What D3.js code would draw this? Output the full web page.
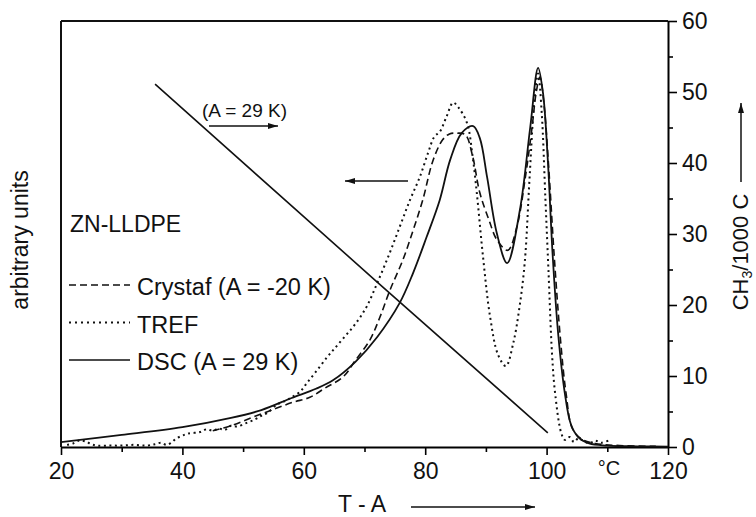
<!DOCTYPE html>
<html><head><meta charset="utf-8">
<script src="https://cdn.jsdelivr.net/npm/d3@7"></script>
<style>
body{margin:0;background:#fff;}
svg text{font-family:"Liberation Sans",Arial,Helvetica,sans-serif;fill:#111;}
</style></head>
<body><svg id="c" width="756" height="517"></svg>
<script>
// ---- data ----
const xMajorTicks = [20, 40, 60, 80, 100, 120];
const xMinorTicks = [30, 50, 70, 90, 110];
const yMajorTicks = [0, 10, 20, 30, 40, 50, 60];
const yMinorTicks = [5, 15, 25, 35, 45, 55];

const dscT = [20, 30, 40, 48, 53, 58, 62, 64.8, 68.5, 72.1, 75.8, 78, 80.2, 82.4, 84.1, 86, 87.9, 89, 90.2, 91.8, 93.5, 95.6, 97.3, 98.6, 99.4, 100.2, 101.0, 101.9, 103, 104, 105.2, 107, 110, 115, 120];
const dscV = [0.7, 1.7, 2.8, 4.1, 5.2, 6.9, 8.2, 9.4, 12.0, 15.5, 20.3, 24.5, 29.5, 34.8, 40.4, 44.2, 45.2, 43.5, 38, 30.1, 25.9, 33.4, 45, 53.4, 49.9, 40.4, 27, 16, 7.6, 3.2, 1.4, 0.5, 0.2, 0.1, 0.05];

const crystafT = [45, 48, 51.6, 55, 58.2, 61, 63.5, 66.5, 68.5, 70.9, 72.5, 74.2, 76.3, 78, 79.6, 81.3, 82.9, 84, 85.2, 86.6, 87.8, 89, 90.5, 91.8, 93.6, 95.1, 96.5, 97.6, 98.3, 98.9, 99.6, 100.3, 101.3, 102.3, 103.2, 104.3, 106, 108, 112, 118];
const crystafV = [2.3, 3.0, 4.2, 5.3, 6.3, 7.0, 8.3, 9.9, 12.2, 15.1, 18.2, 22.1, 26.3, 30.5, 34.8, 40.4, 43.3, 44.1, 44.2, 44.0, 41, 35.8, 32, 29.2, 27.7, 31, 38, 45, 50, 52.1, 48, 40, 26.3, 15, 7.6, 2.5, 1.0, 0.5, 0.2, 0.1];

const trefT = [21, 22, 23, 24, 25, 26, 28, 30, 32, 34, 35.5, 36.5, 37.4, 38.3, 39, 40, 41, 42.9, 44, 45, 46, 47, 48, 49, 50.6, 52, 53, 54, 55.6, 57, 58, 59.4, 60.5, 62, 63.8, 65, 66.5, 68, 69.3, 70.5, 72.1, 74, 75.8, 77.5, 79.1, 80.5, 81.5, 82.4, 83.5, 84.6, 85.5, 86.9, 87.8, 88.5, 89.5, 90.7, 92, 93.3, 94.5, 95.5, 96.4, 97.2, 98, 98.6, 99.2, 99.8, 100.3, 100.9, 101.4, 102.4, 103, 103.8, 104.5, 105.2, 106, 107, 108, 109, 110.4];
const trefV = [0.3, 0.5, 0.9, 0.8, 0.4, 0.2, 0.2, 0.2, 0.3, 0.2, 0.4, 0.6, 0.3, 0.7, 1.2, 1.6, 1.9, 2.1, 2.5, 2.3, 2.6, 2.4, 3.0, 2.9, 3.4, 3.9, 4.4, 4.8, 6.0, 6.5, 7.0, 7.8, 9.0, 10.6, 12.6, 13.8, 15.3, 16.8, 18.3, 20.0, 23.1, 27, 31, 34.8, 38, 41.5, 43.7, 44.4, 46.5, 48.5, 47.8, 45.6, 41, 35.8, 27, 18.3, 13, 11.4, 14.6, 19.5, 26, 38, 49, 52.6, 47, 35, 25, 13, 7.6, 2.0, 1.0, 1.4, 0.7, 1.2, 0.9, 0.5, 0.9, 0.6, 1.0];

const compT = [35.5, 72, 100.2];
const compV = [51.1, 23.3, 2.0];

const legendItems = ["Crystaf (A = -20 K)", "TREF", "DSC (A = 29 K)"];
const legendDash = ["7,4", "2,4", null];

// ---- layout ----
const svg = d3.select("#c");
const L = 61, R = 668, T = 21, B = 447;
const x = d3.scaleLinear().domain([20, 120]).range([L, R]);
const y = d3.scaleLinear().domain([0, 60]).range([B, T]);
const FS = 23;

const defs = svg.append("defs");
defs.append("marker").attr("id", "ah").attr("viewBox", "0 0 10 6")
  .attr("refX", 10).attr("refY", 3).attr("markerWidth", 10).attr("markerHeight", 6)
  .attr("markerUnits", "userSpaceOnUse").attr("orient", "auto")
  .append("path").attr("d", "M0,0L10,3L0,6Z").attr("fill", "#111");

svg.append("line").attr("x1", L).attr("x2", L).attr("y1", T).attr("y2", B).attr("stroke", "#111").attr("stroke-width", 2);
svg.append("line").attr("x1", L).attr("x2", R).attr("y1", T).attr("y2", T).attr("stroke", "#111").attr("stroke-width", 2);

const gx = svg.append("g").attr("transform", `translate(0,${B})`)
  .call(d3.axisBottom(x).tickValues(xMajorTicks).tickSize(8).tickSizeOuter(0).tickPadding(8).tickFormat(d3.format("d")));
gx.select(".domain").attr("stroke-width", 2);
gx.selectAll(".tick line").attr("stroke-width", 1.6);
gx.selectAll(".tick text").attr("font-size", FS).attr("font-family", null);
const gx2 = svg.append("g").attr("transform", `translate(0,${B})`)
  .call(d3.axisBottom(x).tickValues(xMinorTicks).tickSize(5).tickSizeOuter(0).tickFormat(""));
gx2.select(".domain").remove();
gx2.selectAll(".tick line").attr("stroke-width", 1.6);

const gy = svg.append("g").attr("transform", `translate(${R},0)`)
  .call(d3.axisRight(y).tickValues(yMajorTicks).tickSize(9).tickSizeOuter(0).tickPadding(5).tickFormat(d3.format("d")));
gy.select(".domain").attr("stroke-width", 2);
gy.selectAll(".tick line").attr("stroke-width", 1.6);
gy.selectAll(".tick text").attr("font-size", FS).attr("font-family", null);
const gy2 = svg.append("g").attr("transform", `translate(${R},0)`)
  .call(d3.axisRight(y).tickValues(yMinorTicks).tickSize(5).tickSizeOuter(0).tickFormat(""));
gy2.select(".domain").remove();
gy2.selectAll(".tick line").attr("stroke-width", 1.6);

const line = d3.line().x(d => x(d[0])).y(d => y(d[1])).curve(d3.curveCatmullRom.alpha(0.5));
const zip = (a, b) => a.map((v, i) => [v, b[i]]);
svg.append("path").datum(zip(compT, compV)).attr("d", d3.line().x(d => x(d[0])).y(d => y(d[1])))
  .attr("fill", "none").attr("stroke", "#111").attr("stroke-width", 1.6);
svg.append("path").datum(zip(trefT, trefV)).attr("d", line)
  .attr("fill", "none").attr("stroke", "#111").attr("stroke-width", 2).attr("stroke-dasharray", "2,3.5");
svg.append("path").datum(zip(crystafT, crystafV)).attr("d", line)
  .attr("fill", "none").attr("stroke", "#111").attr("stroke-width", 1.6).attr("stroke-dasharray", "7,4");
svg.append("path").datum(zip(dscT, dscV)).attr("d", line)
  .attr("fill", "none").attr("stroke", "#111").attr("stroke-width", 1.8);

legendItems.forEach((t, i) => {
  const yy = 285 + i * 37.5;
  const ln = svg.append("line").attr("x1", 69).attr("x2", 130).attr("y1", yy).attr("y2", yy)
    .attr("stroke", "#111").attr("stroke-width", i === 1 ? 2 : 1.6);
  if (legendDash[i]) ln.attr("stroke-dasharray", legendDash[i]);
  svg.append("text").attr("x", 137).attr("y", yy + 10).attr("font-size", 23.5).text(t);
});

svg.append("text").attr("x", 70).attr("y", 232).attr("font-size", FS).text("ZN-LLDPE");
svg.append("text").attr("x", 202).attr("y", 117).attr("font-size", 19).text("(A = 29 K)");
svg.append("line").attr("x1", 209).attr("x2", 278).attr("y1", 126).attr("y2", 126)
  .attr("stroke", "#111").attr("stroke-width", 1.5).attr("marker-end", "url(#ah)");
svg.append("line").attr("x1", 408).attr("x2", 345).attr("y1", 181).attr("y2", 181)
  .attr("stroke", "#111").attr("stroke-width", 1.5).attr("marker-end", "url(#ah)");
svg.append("text").attr("x", 609).attr("y", 475).attr("font-size", 20).attr("text-anchor", "middle").text("°C");

svg.append("text").attr("x", 338).attr("y", 512).attr("font-size", FS).text("T - A");
svg.append("line").attr("x1", 411).attr("x2", 535).attr("y1", 507).attr("y2", 507)
  .attr("stroke", "#111").attr("stroke-width", 1.5).attr("marker-end", "url(#ah)");

svg.append("text").attr("transform", "translate(28,240) rotate(-90)")
  .attr("font-size", FS).attr("text-anchor", "middle").text("arbitrary units");

const rl = svg.append("text").attr("transform", "translate(748,252) rotate(-90)")
  .attr("font-size", 22).attr("text-anchor", "middle");
rl.append("tspan").text("CH");
rl.append("tspan").attr("font-size", 14).attr("dy", 4).text("3");
rl.append("tspan").attr("dy", -4).text("/1000 C");
svg.append("line").attr("x1", 741).attr("x2", 741).attr("y1", 182).attr("y2", 103)
  .attr("stroke", "#111").attr("stroke-width", 1.5).attr("marker-end", "url(#ah)");
</script></body></html>
